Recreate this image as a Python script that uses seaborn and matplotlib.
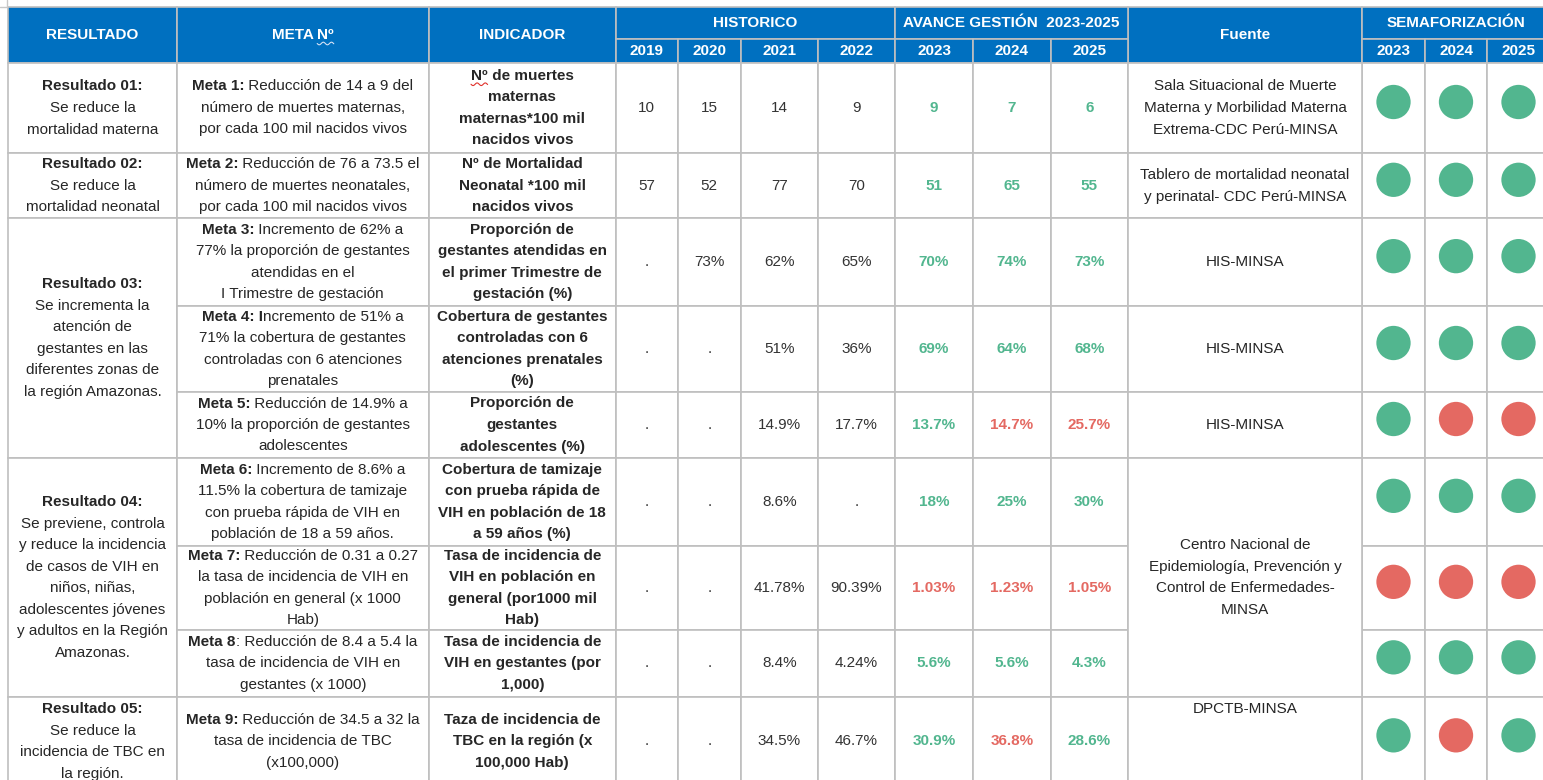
import numpy as np
import pandas as pd
import seaborn as sns
import matplotlib.pyplot as plt
from matplotlib.patches import Rectangle

# ---------------- data ----------------
encabezado_fijo = ["RESULTADO", "META Nº", "INDICADOR"]
grupo_hist = "HISTORICO"
grupo_avance = "AVANCE GESTIÓN  2023-2025"
grupo_sem = "SEMAFORIZACIÓN"
anios_hist = ["2019", "2020", "2021", "2022"]
anios_avance = ["2023", "2024", "2025"]
anios_sem = ["2023", "2024", "2025"]
encabezado_fuente = "Fuente"

resultado_titulo = ["Resultado 01:", "Resultado 02:", "Resultado 03:", "Resultado 04:", "Resultado 05:"]
resultado_texto = [
    ["Se reduce la", "mortalidad materna"],
    ["Se reduce la", "mortalidad neonatal"],
    ["Se incrementa la", "atención de", "gestantes en las", "diferentes zonas de", "la región Amazonas."],
    ["Se previene, controla", "y reduce la incidencia", "de casos de VIH en", "niños, niñas,",
     "adolescentes jóvenes", "y adultos en la Región", "Amazonas."],
    ["Se reduce la", "incidencia de TBC en", "la región."],
]
resultado_filas = [(0, 1), (1, 2), (2, 5), (5, 8), (8, 9)]

meta_negrita = ["Meta 1:", "Meta 2:", "Meta 3:", "Meta 4: I", "Meta 5:", "Meta 6:", "Meta 7:", "Meta 8", "Meta 9:"]
meta_texto = [
    [" Reducción de 14 a 9 del", "número de muertes maternas,", "por cada 100 mil nacidos vivos"],
    [" Reducción de 76 a 73.5 el", "número de muertes neonatales,", "por cada 100 mil nacidos vivos"],
    [" Incremento de 62% a", "77% la proporción de gestantes", "atendidas en el", "I Trimestre de gestación"],
    ["ncremento de 51% a", "71% la cobertura de gestantes", "controladas con 6 atenciones", "prenatales"],
    [" Reducción de 14.9% a", "10% la proporción de gestantes", "adolescentes"],
    [" Incremento de 8.6% a", "11.5% la cobertura de tamizaje", "con prueba rápida de VIH en",
     "población de 18 a 59 años."],
    [" Reducción de 0.31 a 0.27", "la tasa de incidencia de VIH en", "población en general (x 1000", "Hab)"],
    [": Reducción de 8.4 a 5.4 la", "tasa de incidencia de VIH en", "gestantes (x 1000)"],
    [" Reducción de 34.5 a 32 la", "tasa de incidencia de TBC", "(x100,000)"],
]

indicador = [
    ["Nº de muertes", "maternas", "maternas*100 mil", "nacidos vivos"],
    ["Nº de Mortalidad", "Neonatal *100 mil", "nacidos vivos"],
    ["Proporción de", "gestantes atendidas en", "el primer Trimestre de", "gestación (%)"],
    ["Cobertura de gestantes", "controladas con 6", "atenciones prenatales", "(%)"],
    ["Proporción de", "gestantes", "adolescentes (%)"],
    ["Cobertura de tamizaje", "con prueba rápida de", "VIH en población de 18", "a 59 años (%)"],
    ["Tasa de incidencia de", "VIH en población en", "general (por1000 mil", "Hab)"],
    ["Tasa de incidencia de", "VIH en gestantes (por", "1,000)"],
    ["Taza de incidencia de", "TBC en la región (x", "100,000 Hab)"],
]

v2019 = ["10", "57", ".", ".", ".", ".", ".", ".", "."]
v2020 = ["15", "52", "73%", ".", ".", ".", ".", ".", "."]
v2021 = ["14", "77", "62%", "51%", "14.9%", "8.6%", "41.78%", "8.4%", "34.5%"]
v2022 = ["9", "70", "65%", "36%", "17.7%", ".", "90.39%", "4.24%", "46.7%"]
v2023 = ["9", "51", "70%", "69%", "13.7%", "18%", "1.03%", "5.6%", "30.9%"]
v2024 = ["7", "65", "74%", "64%", "14.7%", "25%", "1.23%", "5.6%", "36.8%"]
v2025 = ["6", "55", "73%", "68%", "25.7%", "30%", "1.05%", "4.3%", "28.6%"]

sem2023 = ["verde", "verde", "verde", "verde", "verde", "verde", "rojo", "verde", "verde"]
sem2024 = ["verde", "verde", "verde", "verde", "rojo", "verde", "rojo", "verde", "rojo"]
sem2025 = ["verde", "verde", "verde", "verde", "rojo", "verde", "rojo", "verde", "verde"]

fuente = [
    ["Sala Situacional de Muerte", "Materna y Morbilidad Materna", "Extrema-CDC Perú-MINSA"],
    ["Tablero de mortalidad neonatal", "y perinatal- CDC Perú-MINSA"],
    ["HIS-MINSA"],
    ["HIS-MINSA"],
    ["HIS-MINSA"],
    ["Centro Nacional de", "Epidemiología, Prevención y", "Control de Enfermedades-", "MINSA"],
    ["DPCTB-MINSA"],
]
fuente_filas = [(0, 1), (1, 2), (2, 3), (3, 4), (4, 5), (5, 8), (8, 9)]
fuente_arriba = [False, False, False, False, False, False, True]

# ---------------- layout / style ----------------
W, H = 1543, 780
col_x = [8, 177, 428.5, 616, 677.7, 740.7, 818, 895, 973, 1050.7, 1128, 1362, 1425, 1487, 1550]
hdr_top, hdr_mid, hdr_bot = 7.3, 39.3, 62.7
row_y = [62.7, 153.3, 218.3, 306, 392, 458, 545.7, 630, 696.7, 786]

AZUL = "#0070C0"
GRIS = "#BFBFBF"
TXT = "#262626"
VERDE = "#52B68F"
ROJO = "#E46962"
colores = {"verde": VERDE, "rojo": ROJO}
FS = 11
LH = 21.5

sns.set_theme(style="white")
plt.rcParams['font.family'] = ['Liberation Sans Narrow', 'Liberation Sans', 'DejaVu Sans']

fig = plt.figure(figsize=(W / 100, H / 100), dpi=100)
ax = fig.add_axes([0, 0, 1, 1])
ax.set_xlim(0, W)
ax.set_ylim(H, 0)
ax.axis('off')
renderer = fig.canvas.get_renderer()


def cx(c0, c1=None):
    c1 = c0 + 1 if c1 is None else c1
    return (col_x[c0] + col_x[c1]) / 2


def celda(c0, c1, y0, y1, fc="white"):
    ax.add_patch(Rectangle((col_x[c0], y0), col_x[c1] - col_x[c0], y1 - y0,
                           facecolor=fc, edgecolor=GRIS, lw=1.2, zorder=1))


def linea(xc, y, partes, size=FS, color=TXT):
    objs = [ax.text(0, y, s, fontsize=size, fontweight=w, color=color,
                    ha='left', va='center', zorder=3) for s, w in partes]
    anchos = [t.get_window_extent(renderer).width for t in objs]
    x = xc - sum(anchos) / 2
    for t, a in zip(objs, anchos):
        t.set_x(x)
        x += a
    return objs


def bloque(xc, yc, lineas, size=FS, color=TXT):
    n = len(lineas)
    out = []
    for i, partes in enumerate(lineas):
        out.append(linea(xc, yc + (i - (n - 1) / 2) * LH, partes, size, color))
    return out


def garabato(t, color):
    bb = t.get_window_extent(renderer)
    xs = np.linspace(bb.x0, bb.x1, 40)
    ys = H - bb.y0 + 1.5 + 1.3 * np.sin((xs - bb.x0) / 1.3)
    ax.plot(xs, ys, color=color, lw=0.8, zorder=4)


# ---------------- header ----------------
for c in range(3):
    celda(c, c + 1, hdr_top, hdr_bot, AZUL)
celda(10, 11, hdr_top, hdr_bot, AZUL)
celda(3, 7, hdr_top, hdr_mid, AZUL)
celda(7, 10, hdr_top, hdr_mid, AZUL)
celda(11, 14, hdr_top, hdr_mid, AZUL)
for c in list(range(3, 10)) + [11, 12, 13]:
    celda(c, c + 1, hdr_mid, hdr_bot, AZUL)

ymid = (hdr_top + hdr_bot) / 2
linea(cx(0), ymid, [(encabezado_fijo[0], "bold")], color="white")
meta_hdr = linea(cx(1), ymid, [("META ", "bold"), ("Nº", "bold")], color="white")
garabato(meta_hdr[1], "#D6E2F5")
linea(cx(2), ymid, [(encabezado_fijo[2], "bold")], color="white")
linea(cx(10), ymid, [(encabezado_fuente, "bold")], color="white")
ytop = (hdr_top + hdr_mid) / 2
linea(cx(3, 7), ytop, [(grupo_hist, "bold")], color="white")
linea(cx(7, 10), ytop, [(grupo_avance, "bold")], color="white")
linea(cx(11, 14), ytop, [(grupo_sem, "bold")], color="white")
ybot = (hdr_mid + hdr_bot) / 2
for i, a in enumerate(anios_hist + anios_avance):
    linea(cx(3 + i), ybot, [(a, "bold")], color="white")
for i, a in enumerate(anios_sem):
    linea(cx(11 + i), ybot, [(a, "bold")], color="white")

# ---------------- body ----------------
def yc(r0, r1):
    return (row_y[r0] + row_y[r1]) / 2


for tit, txt, (r0, r1) in zip(resultado_titulo, resultado_texto, resultado_filas):
    celda(0, 1, row_y[r0], row_y[r1])
    bloque(cx(0), yc(r0, r1), [[(tit, "bold")]] + [[(s, "normal")] for s in txt])

for r in range(len(meta_negrita)):
    celda(1, 2, row_y[r], row_y[r + 1])
    lineas = [[(meta_negrita[r], "bold"), (meta_texto[r][0], "normal")]]
    lineas += [[(s, "normal")] for s in meta_texto[r][1:]]
    bloque(cx(1), yc(r, r + 1), lineas)

    celda(2, 3, row_y[r], row_y[r + 1])
    lineas = []
    for s in indicador[r]:
        if s.startswith("Nº"):
            lineas.append([("Nº", "bold"), (s[2:], "bold")])
        else:
            lineas.append([(s, "bold")])
    objs = bloque(cx(2), yc(r, r + 1), lineas)
    if r == 0:
        garabato(objs[0][0], "#E0312B")

    for j, col in enumerate([v2019, v2020, v2021, v2022]):
        celda(3 + j, 4 + j, row_y[r], row_y[r + 1])
        linea(cx(3 + j), yc(r, r + 1), [(col[r], "normal")], color="#333333")
    for j, (col, sem) in enumerate(zip([v2023, v2024, v2025], [sem2023, sem2024, sem2025])):
        celda(7 + j, 8 + j, row_y[r], row_y[r + 1])
        linea(cx(7 + j), yc(r, r + 1), [(col[r], "bold")], color=colores[sem[r]])
    for j in range(3):
        celda(11 + j, 12 + j, row_y[r], row_y[r + 1])

for txt, (r0, r1), arriba in zip(fuente, fuente_filas, fuente_arriba):
    celda(10, 11, row_y[r0], row_y[r1])
    y = row_y[r0] + 12.5 if arriba else yc(r0, r1)
    bloque(cx(10), y, [[(s, "normal")] for s in txt])

# semaforo circles
sem_df = pd.DataFrame({
    "x": np.repeat([cx(11), cx(12), cx(13)], len(sem2023)),
    "y": np.tile([yc(r, r + 1) - 6 for r in range(len(sem2023))], 3),
    "estado": sem2023 + sem2024 + sem2025,
})
sns.scatterplot(data=sem_df, x="x", y="y", hue="estado", palette=colores, s=610,
                linewidth=0, legend=False, ax=ax, zorder=5)
ax.set_xlim(0, W)
ax.set_ylim(H, 0)
ax.axis('off')

# small corner mark from the sheet
ax.plot([0, 7, 7], [6.5, 6.5, 0], color="#C8C8C8", lw=1.0)

fig.savefig("out.png", dpi=100)
